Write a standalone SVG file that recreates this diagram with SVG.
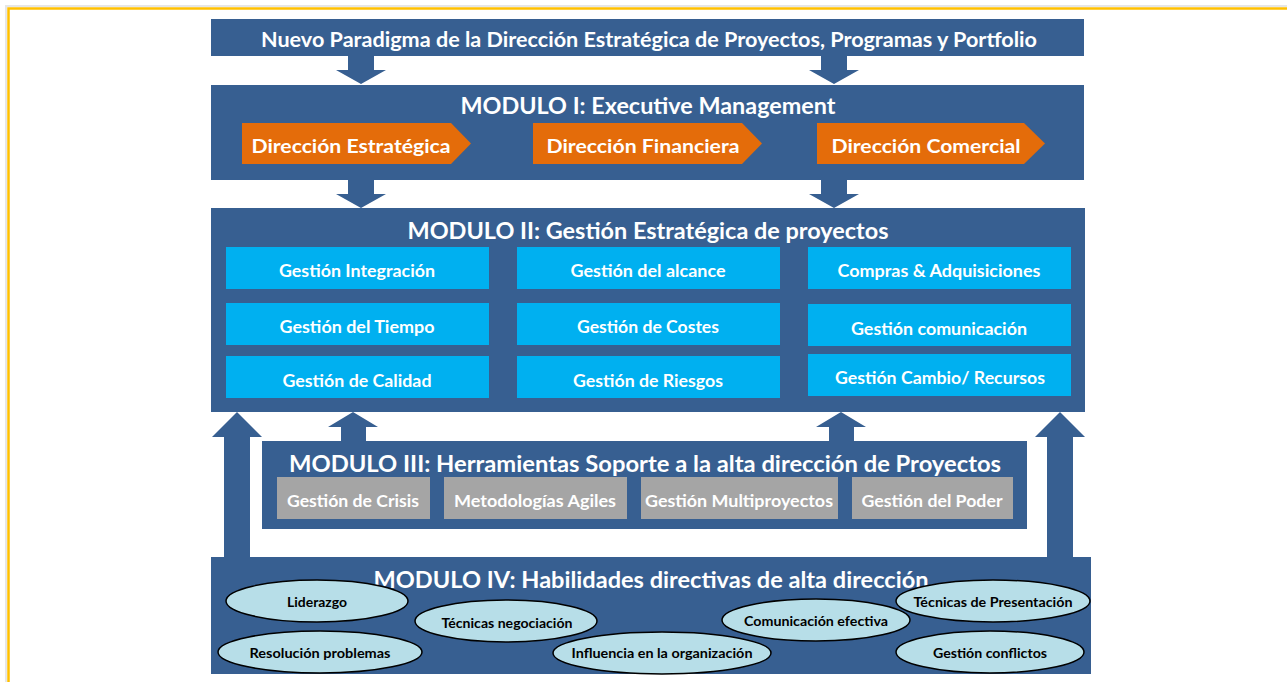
<svg xmlns="http://www.w3.org/2000/svg" width="1287" height="682" viewBox="0 0 1287 682">
<defs>
<style>
.bg{fill:#FFFFFF}
.frame{fill:none;stroke:#FFC000;stroke-width:2.5}
.shadow{fill:none;stroke:#E6E6E6;stroke-width:2}
.blue{fill:#375F91}
.orange{fill:#E46C0A}
.cyan{fill:#00B0F0}
.gray{fill:#A5A5A5}
.ell{fill:#B7DEE8;stroke:#000000;stroke-width:1.5}
.arrow{fill:#375F91}
text{font-family:Lato,"Open Sans","Liberation Sans",sans-serif;font-weight:bold;text-anchor:middle}
.w{fill:#FFFFFF}
.k{fill:#000000}
.t1{font-size:21px}
.tm{font-size:23px}
.to{font-size:19.5px}
.tb{font-size:16.5px}
.tg{font-size:17px}
.te{font-size:14px}
</style>
</defs>
<rect class="bg" x="0" y="0" width="1287" height="682"/>
<rect class="shadow" x="6" y="6" width="1300" height="700"/>
<rect class="frame" x="8.5" y="8.5" width="1300" height="700"/>

<g id="connectors">
<polygon class="arrow" points="348,56 374,56 374,70 386,70 361,84 336,70 348,70"/>
<polygon class="arrow" points="821,56 847,56 847,70 859,70 834,84 809,70 821,70"/>
<polygon class="arrow" points="348,180 374,180 374,194 386,194 361,208 336,194 348,194"/>
<polygon class="arrow" points="821,180 847,180 847,194 859,194 834,208 809,194 821,194"/>
<polygon class="arrow" points="341,441 366,441 366,427 378,427 353,412 328,427 341,427"/>
<polygon class="arrow" points="829,441 854,441 854,427 866,427 841,412 816,427 829,427"/>
<polygon class="arrow" points="224,557 250,557 250,437 262,437 237,412 212,437 224,437"/>
<polygon class="arrow" points="1047,557 1073,557 1073,437 1085,437 1060,412 1035,437 1047,437"/>
</g>

<g id="banner">
<rect class="blue" x="211" y="19" width="873" height="37"/>
<text class="w t1" x="649" y="47" textLength="776" lengthAdjust="spacingAndGlyphs">Nuevo Paradigma de la Dirección Estratégica de Proyectos, Programas y Portfolio</text>
</g>

<g id="modulo1">
<rect class="blue" x="211" y="85" width="873" height="95"/>
<text class="w tm" x="648" y="114" textLength="375" lengthAdjust="spacingAndGlyphs">MODULO I: Executive Management</text>
<g id="dir-estrategica">
<polygon class="orange" points="242,123 451,123 471,143.5 451,164 242,164"/>
<text class="w to" x="351" y="153" textLength="199" lengthAdjust="spacingAndGlyphs">Dirección Estratégica</text>
</g>
<g id="dir-financiera">
<polygon class="orange" points="533,123 742,123 762,143.5 742,164 533,164"/>
<text class="w to" x="643" y="153" textLength="193" lengthAdjust="spacingAndGlyphs">Dirección Financiera</text>
</g>
<g id="dir-comercial">
<polygon class="orange" points="817,123 1024,123 1045,143.5 1024,164 817,164"/>
<text class="w to" x="926" y="153" textLength="189" lengthAdjust="spacingAndGlyphs">Dirección Comercial</text>
</g>
</g>

<g id="modulo2">
<rect class="blue" x="211" y="208" width="874" height="204"/>
<text class="w tm" x="648" y="239" textLength="481" lengthAdjust="spacingAndGlyphs">MODULO II: Gestión Estratégica de proyectos</text>
<g id="g-integracion"><rect class="cyan" x="226" y="247" width="263" height="42"/><text class="w tb" x="357" y="277" textLength="156" lengthAdjust="spacingAndGlyphs">Gestión Integración</text></g>
<g id="g-tiempo"><rect class="cyan" x="226" y="303" width="263" height="42"/><text class="w tb" x="357" y="333" textLength="155" lengthAdjust="spacingAndGlyphs">Gestión del Tiempo</text></g>
<g id="g-calidad"><rect class="cyan" x="226" y="356" width="263" height="42"/><text class="w tb" x="357" y="387" textLength="149" lengthAdjust="spacingAndGlyphs">Gestión de Calidad</text></g>
<g id="g-alcance"><rect class="cyan" x="517" y="247" width="263" height="42"/><text class="w tb" x="648" y="277" textLength="155" lengthAdjust="spacingAndGlyphs">Gestión del alcance</text></g>
<g id="g-costes"><rect class="cyan" x="517" y="303" width="263" height="42"/><text class="w tb" x="648" y="333" textLength="142" lengthAdjust="spacingAndGlyphs">Gestión de Costes</text></g>
<g id="g-riesgos"><rect class="cyan" x="517" y="356" width="263" height="42"/><text class="w tb" x="648" y="387" textLength="150" lengthAdjust="spacingAndGlyphs">Gestión de Riesgos</text></g>
<g id="g-compras"><rect class="cyan" x="808" y="247" width="263" height="42"/><text class="w tb" x="939" y="277" textLength="203" lengthAdjust="spacingAndGlyphs">Compras &amp; Adquisiciones</text></g>
<g id="g-comunicacion"><rect class="cyan" x="808" y="304" width="263" height="42"/><text class="w tb" x="939" y="335" textLength="176" lengthAdjust="spacingAndGlyphs">Gestión comunicación</text></g>
<g id="g-cambio"><rect class="cyan" x="808" y="354" width="263" height="42"/><text class="w tb" x="940" y="384" textLength="210" lengthAdjust="spacingAndGlyphs">Gestión Cambio/ Recursos</text></g>
</g>

<g id="modulo3">
<rect class="blue" x="262" y="441" width="765" height="88"/>
<text class="w tm" x="645" y="472" textLength="712" lengthAdjust="spacingAndGlyphs">MODULO III: Herramientas Soporte a la alta dirección de Proyectos</text>
<g id="g-crisis"><rect class="gray" x="277" y="477" width="153" height="42"/><text class="w tg" x="353" y="507" textLength="132" lengthAdjust="spacingAndGlyphs">Gestión de Crisis</text></g>
<g id="g-agiles"><rect class="gray" x="444" y="477" width="183" height="42"/><text class="w tg" x="535" y="507" textLength="162" lengthAdjust="spacingAndGlyphs">Metodologías Agiles</text></g>
<g id="g-multi"><rect class="gray" x="641" y="477" width="197" height="42"/><text class="w tg" x="739" y="507" textLength="188" lengthAdjust="spacingAndGlyphs">Gestión Multiproyectos</text></g>
<g id="g-poder"><rect class="gray" x="852" y="477" width="161" height="42"/><text class="w tg" x="932" y="507" textLength="141" lengthAdjust="spacingAndGlyphs">Gestión del Poder</text></g>
</g>

<g id="modulo4">
<rect class="blue" x="211" y="557" width="880" height="117"/>
<text class="w tm" x="651" y="588" textLength="555" lengthAdjust="spacingAndGlyphs">MODULO IV: Habilidades directivas de alta dirección</text>
<g id="e-liderazgo"><ellipse class="ell" cx="317" cy="601" rx="91" ry="21"/><text class="k te" x="317" y="607" textLength="60" lengthAdjust="spacingAndGlyphs">Liderazgo</text></g>
<g id="e-resolucion"><ellipse class="ell" cx="320" cy="652" rx="102" ry="21"/><text class="k te" x="320" y="658" textLength="141" lengthAdjust="spacingAndGlyphs">Resolución problemas</text></g>
<g id="e-negociacion"><ellipse class="ell" cx="506" cy="621" rx="91" ry="21"/><text class="k te" x="507" y="628" textLength="131" lengthAdjust="spacingAndGlyphs">Técnicas negociación</text></g>
<g id="e-influencia"><ellipse class="ell" cx="662" cy="653" rx="109" ry="21"/><text class="k te" x="662" y="658" textLength="181" lengthAdjust="spacingAndGlyphs">Influencia en la organización</text></g>
<g id="e-comunicacion"><ellipse class="ell" cx="816" cy="620" rx="94" ry="21"/><text class="k te" x="816" y="626" textLength="144" lengthAdjust="spacingAndGlyphs">Comunicación efectiva</text></g>
<g id="e-presentacion"><ellipse class="ell" cx="993" cy="601" rx="97" ry="21"/><text class="k te" x="993" y="607" textLength="159" lengthAdjust="spacingAndGlyphs">Técnicas de Presentación</text></g>
<g id="e-conflictos"><ellipse class="ell" cx="990" cy="652" rx="94" ry="21"/><text class="k te" x="990" y="658" textLength="114" lengthAdjust="spacingAndGlyphs">Gestión conflictos</text></g>
</g>
</svg>
